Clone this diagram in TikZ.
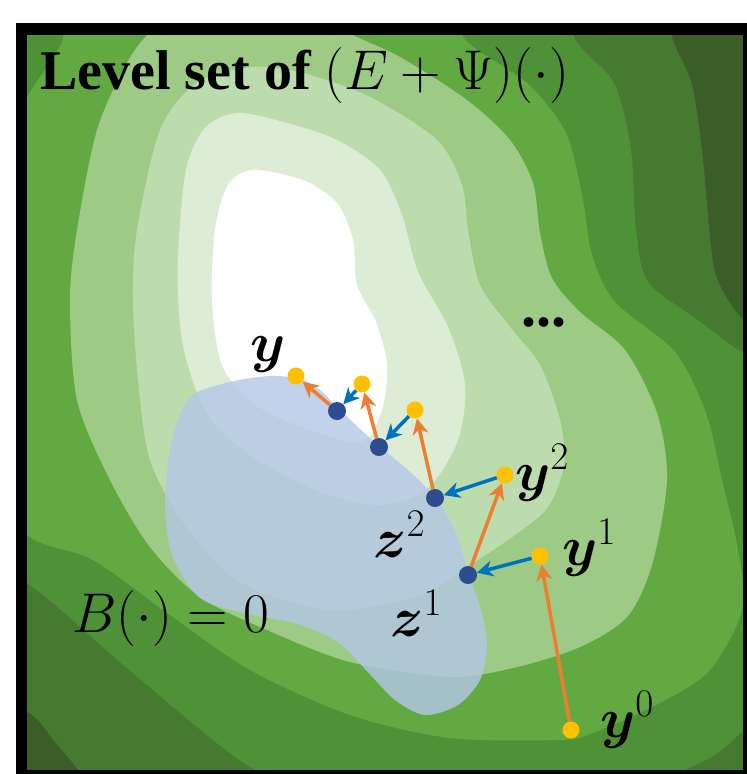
\RequirePackage{fix-cm}
\documentclass[tikz,border=0pt]{standalone}
\usepackage{amsmath,amssymb,bm}
\usepackage[no-math]{fontspec}
\usepackage{tikz}
\usetikzlibrary{arrows.meta,positioning,calc}

\newfontfamily\titlefont{Liberation Serif}

\definecolor{lvlA}{HTML}{DDEDD5}
\definecolor{lvlB}{HTML}{BDDCAE}
\definecolor{lvlC}{HTML}{9DCB85}
\definecolor{lvlD}{HTML}{63A942}
\definecolor{lvlE}{HTML}{4F9137}
\definecolor{lvlF}{HTML}{457A30}
\definecolor{lvlG}{HTML}{3B5E29}
\definecolor{constr}{HTML}{B4C7E7}
\definecolor{ygold}{HTML}{FFC000}
\definecolor{zblue}{HTML}{2E4C92}
\definecolor{gradorange}{HTML}{ED7D31}
\definecolor{projblue}{HTML}{0070C0}

\begin{document}
\begin{tikzpicture}[x=1pt,y=-1pt,
    ydot/.style={circle,fill=ygold,inner sep=0pt,minimum size=17pt},
    zdot/.style={circle,fill=zblue,inner sep=0pt,minimum size=18pt},
    gradstep/.style={draw=gradorange,line width=3.5pt,-{Stealth[length=16pt,width=16pt,inset=5pt]}},
    projstep/.style={draw=projblue,line width=3.5pt,-{Stealth[length=16pt,width=16pt,inset=5pt]}},
    lbl/.style={anchor=base west,inner sep=0pt,font=\fontsize{56}{60}\selectfont}]
  \useasboundingbox (0,0) rectangle (747,774);

  % level sets, from the outside in
  \begin{scope}
    \clip (27,35) rectangle (743,770);
    \fill[lvlG] (0,0) rectangle (760,790);
    \fill[lvlF] plot[smooth cycle] coordinates {(-30,705) (27,712) (55,742) (80,772) (100,800) (790,800) (790,370) (760,340) (728,300) (713,262) (703,160) (692,85) (672,37) (660,-30) (-30,-30)};
    \fill[lvlE] plot[smooth cycle] coordinates {(250,767) (330,792) (600,792) (700,763) (747,727) (790,680) (790,390) (735,348) (695,318) (648,282) (636,230) (631,150) (614,83) (574,37) (565,-30) (-30,-30) (-30,570) (27,583) (135,675)};
    \fill[lvlD] plot[smooth cycle] coordinates {(85,-30) (62,42) (27,97) (-30,200) (-30,460) (27,535) (93,560) (170,615) (250,670) (350,715) (450,738) (560,740) (593,733) (660,703) (710,670) (742,610) (738,550) (722,480) (706,413) (675,352) (615,302) (592,255) (583,200) (566,133) (527,83) (463,37) (440,-30)};
    \fill[lvlC] plot[smooth cycle] coordinates {(210,-5) (153,30) (127,63) (97,130) (77,230) (70,300) (77,400) (110,480) (150,547) (200,597) (267,630) (350,662) (450,677) (517,667) (580,647) (627,617) (652,565) (667,480) (657,413) (625,350) (580,312) (552,278) (540,233) (533,183) (510,140) (467,100) (400,57) (353,35) (300,5)};
    \fill[lvlB] plot[smooth cycle] coordinates {(253,67) (303,73) (370,97) (437,140) (462,185) (468,230) (480,285) (510,327) (540,365) (560,420) (564,465) (548,507) (515,535) (470,565) (420,595) (330,610) (240,582) (185,525) (150,460) (138,380) (133,300) (137,230) (160,130) (197,83)};
    \fill[lvlA] plot[smooth cycle] coordinates {(237,113) (287,123) (337,140) (380,170) (402,215) (418,272) (448,327) (465,385) (458,440) (428,488) (380,505) (320,492) (250,455) (205,410) (182,340) (178,260) (186,170) (205,128)};
    \fill[white] plot[smooth cycle] coordinates {(253,170) (303,180) (337,203) (353,240) (357,285) (376,322) (387,365) (382,410) (362,442) (310,430) (255,405) (222,365) (212,300) (215,230) (228,185)};
    % constraint set B = 0
    \fill[constr,opacity=0.8] plot[smooth cycle] coordinates {(190,397) (230,382) (270,376) (300,379) (320,390) (337,407) (358,427) (379,446) (408,470) (435,497) (455,530) (468,572) (481,610) (487,645) (480,680) (458,705) (425,715) (395,700) (366,670) (338,642) (298,624) (248,614) (200,598) (172,555) (165,500) (172,440)};
  \end{scope}
  \draw[line width=11.5pt] (21.5,29) rectangle (748.5,775.5);

  % iterates
  \node[ydot] (y0) at (571,730) {};
  \node[ydot] (y1) at (540,556) {};
  \node[zdot] (z1) at (468,575) {};
  \node[ydot] (y2) at (505,475) {};
  \node[zdot] (z2) at (435,498) {};
  \node[ydot] (y3) at (415,410) {};
  \node[zdot] (z3) at (379,447) {};
  \node[ydot] (y4) at (362,384) {};
  \node[zdot] (z4) at (337,411) {};
  \node[ydot] (ystar) at (296,376) {};

  \foreach \a/\b/\s in {y0/y1/gradstep, y1/z1/projstep, z1/y2/gradstep, y2/z2/projstep,
      z2/y3/gradstep, y3/z3/projstep, z3/y4/gradstep, y4/z4/projstep, z4/ystar/gradstep}
    \draw[\s] (\a) -- (\b);

  % labels
  \node[lbl] (title) at (40,89) {\titlefont\bfseries Level set of $(E+\Psi)(\cdot)$};
  \node[lbl] (bzero) at (72,632) {$B(\cdot)=0$};
  \node[lbl] (ylab) at (250,361) {$\bm{y}$};
  \node[lbl] (y2lab) at (515,490) {$\bm{y}^2$};
  \node[lbl] (y1lab) at (562,565) {$\bm{y}^1$};
  \node[lbl] (y0lab) at (600,737) {$\bm{y}^0$};
  \node[lbl] (z2lab) at (373,557) {$\bm{z}^2$};
  \node[lbl] (z1lab) at (390,636) {$\bm{z}^1$};
  \node[anchor=base,inner sep=0pt,font=\fontsize{60}{60}\selectfont] (more) at (544,326) {\titlefont\bfseries ...};
\end{tikzpicture}
\end{document}
